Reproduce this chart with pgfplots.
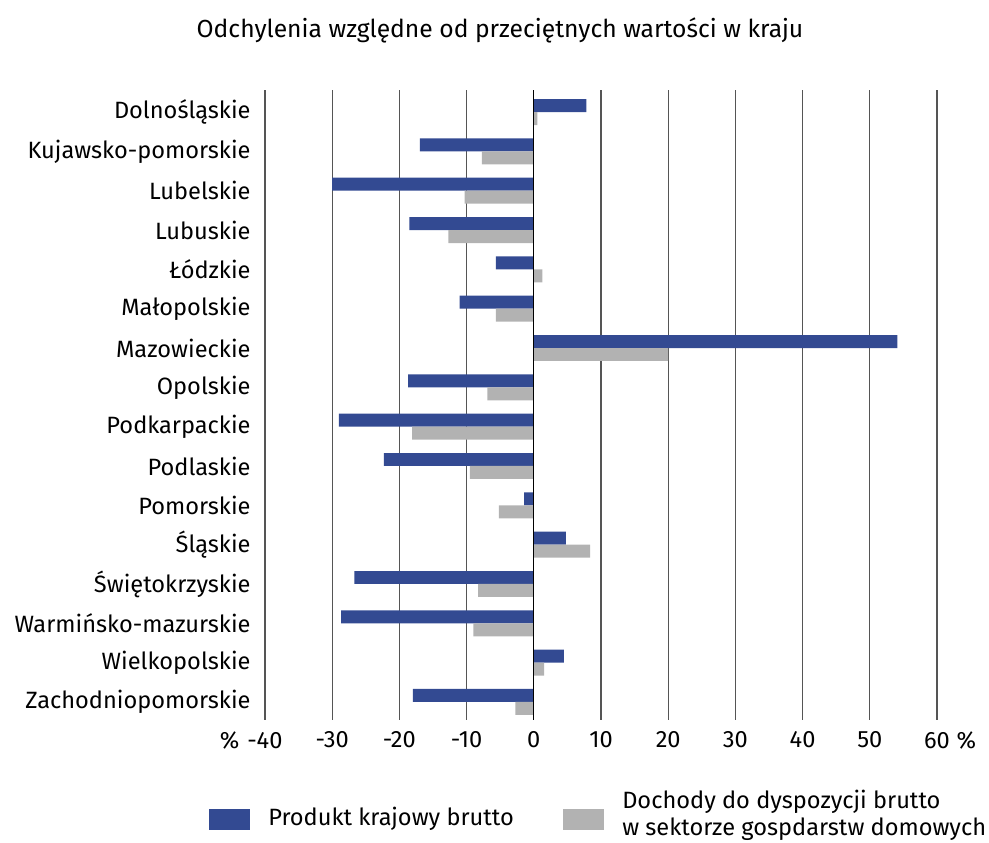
\documentclass[border=0pt]{standalone}
\usepackage{pgfplots}
\pgfplotsset{compat=1.18}
\usepackage{fontspec}
\setmainfont{Fira Sans}
\definecolor{pkb}{HTML}{334A92}
\definecolor{ddb}{HTML}{B2B2B2}
\definecolor{grd}{HTML}{555555}
\begin{document}
\begin{tikzpicture}[x=0.75pt,y=0.75pt]
\begin{axis}[
  scale only axis,
  width=504pt, height=472.5pt,
  xmin=-40, xmax=60,
  ymin=-0.56, ymax=15.46,
  y dir=reverse,
  axis line style={draw=none},
  xtick={-40,-30,...,60},
  xticklabels={\llap{\%\hspace{6pt}}-40,-30,-20,-10,0,10,20,30,40,50,60\rlap{\hspace{5pt}\%}},
  ytick={0,...,15},
  yticklabels={Dolnośląskie,Kujawsko-pomorskie,Lubelskie,Lubuskie,Łódzkie,Małopolskie,Mazowieckie,Opolskie,Podkarpackie,Podlaskie,Pomorskie,Śląskie,Świętokrzyskie,Warmińsko-mazurskie,Wielkopolskie,Zachodniopomorskie},
  tick style={draw=none},
  ticklabel style={font=\fontsize{17.7}{20}\selectfont},
  /pgf/number format/assume math mode=true,
  xticklabel style={yshift=-5pt},
  yticklabel style={xshift=-3pt},
  clip=false,
  xbar, bar width=0.33,
]
% grid lines
\pgfplotsinvokeforeach{-40,-30,-20,-10,10,20,30,40,50,60}{
  \draw[grd, line width=0.9pt] (axis cs:#1,-0.56) -- (axis cs:#1,15.46);
}
\addplot[fill=pkb, draw=none, bar shift=-0.165] coordinates {
(7.83,0) (-16.95,1) (-30.0,2) (-18.5,3) (-5.65,4) (-11.05,5) (54.1,6) (-18.7,7)
(-29.0,8) (-22.3,9) (-1.44,10) (4.76,11) (-26.7,12) (-28.65,13) (4.46,14) (-18.0,15)};
\addplot[fill=ddb, draw=none, bar shift=0.165] coordinates {
(0.55,0) (-7.73,1) (-10.3,2) (-12.7,3) (1.29,4) (-5.65,5) (20.0,6) (-6.9,7)
(-18.1,8) (-9.5,9) (-5.2,10) (8.4,11) (-8.3,12) (-9.0,13) (1.54,14) (-2.73,15)};
\draw[black, line width=1pt] (axis cs:0,-0.56) -- (axis cs:0,15.46);
% title
\node[font=\fontsize{18.5}{22}\selectfont] at (rel axis cs:0.3497,1.0952) {Odchylenia względne od przeciętnych wartości w kraju};
% legend
\fill[pkb] (rel axis cs:-0.0833,-0.1413) rectangle (rel axis cs:-0.0223,-0.1746);
\node[anchor=west, font=\fontsize{17.7}{20}\selectfont, inner sep=0pt] at (rel axis cs:0.0045,-0.1571) {Produkt krajowy brutto};
\fill[ddb] (rel axis cs:0.4435,-0.1413) rectangle (rel axis cs:0.5045,-0.1746);
\node[anchor=west, align=left, font=\fontsize{17.7}{20}\selectfont, inner sep=0pt] at (rel axis cs:0.5313,-0.1508) {Dochody do dyspozycji brutto\\w sektorze gospdarstw domowych};
\coordinate (bl) at (rel axis cs:-0.3943,-0.1937);
\coordinate (tr) at (rel axis cs:1.0774,1.1429);
\end{axis}
\pgfresetboundingbox
\useasboundingbox (bl) rectangle (tr);
\end{tikzpicture}
\end{document}
